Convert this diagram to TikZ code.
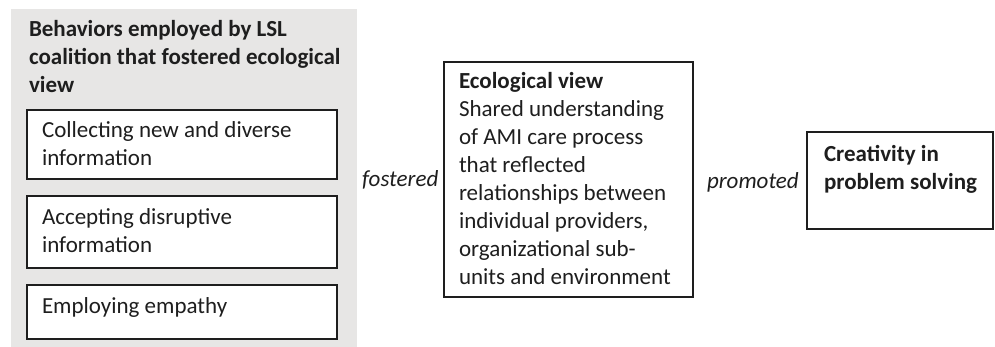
\documentclass[tikz,border=0pt]{standalone}
\usepackage{fontspec}
\setmainfont{Carlito}
\definecolor{panelgray}{RGB}{231,230,229}
\definecolor{ink}{RGB}{30,30,30}
% multi-line text block whose reference point is the first baseline
\newcommand{\firstbase}[1]{\begin{tabular}[t]{@{}l@{}}#1\end{tabular}}
\begin{document}
\begin{tikzpicture}[x=1pt,y=-1pt,
  every node/.style={inner sep=0pt,outer sep=0pt,text=ink},
  box/.style={draw=ink,line width=1.6pt,fill=white,anchor=north west},
  txt/.style={anchor=base west,font=\fontsize{23}{28}\selectfont},
  head/.style={anchor=base west,font=\fontsize{23}{28}\selectfont\bfseries},
  verb/.style={anchor=base west,font=\fontsize{23}{28}\selectfont\itshape}]
\useasboundingbox (0,0) rectangle (995,347);
\renewcommand{\arraystretch}{1}
% grey panel holding the behaviours
\node[fill=panelgray,anchor=north west,minimum width=346pt,minimum height=338pt] (panel) at (11,9) {};
\node[head] (headtxt) at (29,37) {\firstbase{Behaviors employed by LSL\\coalition that fostered ecological\\view}};
% behaviour boxes
\node[box,minimum width=310pt,minimum height=69pt] (b1) at (27,110) {};
\node[txt] (t1) at (42,138) {\firstbase{Collecting new and diverse\\information}};
\node[box,minimum width=310pt,minimum height=72pt] (b2) at (27,196) {};
\node[txt] (t2) at (42,225) {\firstbase{Accepting disruptive\\information}};
\node[box,minimum width=310pt,minimum height=54pt] (b3) at (27,285) {};
\node[txt] (t3) at (42,313) {Employing empathy};
% relation label
\node[verb] (fostered) at (362,187) {fostered};
% ecological view box
\node[box,minimum width=249pt,minimum height=235pt] (eco) at (444,62) {};
\node[txt] (ecotxt) at (459,89) {\firstbase{\textbf{Ecological view}\\Shared understanding\\of AMI care process\\that reflected\\relationships between\\individual providers,\\organizational sub-\\units and environment}};
% relation label
\node[verb] (promoted) at (707,189) {promoted};
% creativity box
\node[box,minimum width=186pt,minimum height=97pt] (crea) at (807,132) {};
\node[head] (creatxt) at (824,162) {\firstbase{Creativity in\\problem solving}};
\end{tikzpicture}
\end{document}
